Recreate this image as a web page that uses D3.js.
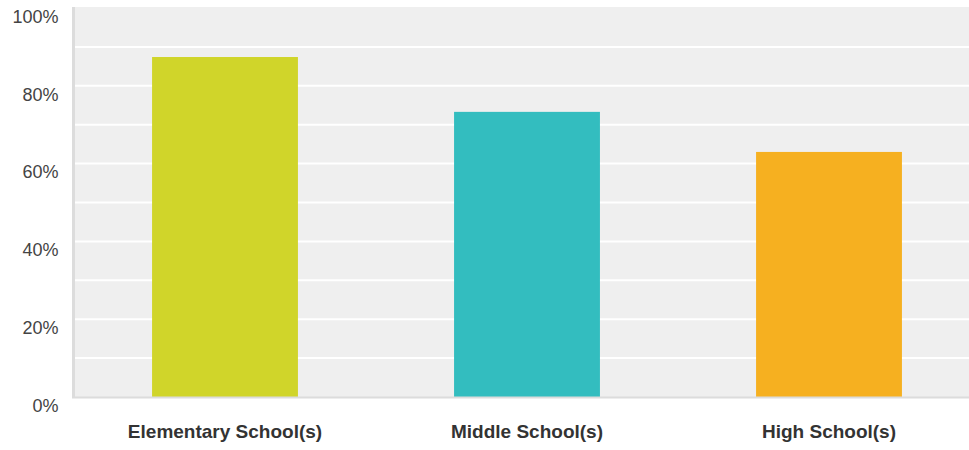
<!DOCTYPE html>
<html>
<head>
<meta charset="utf-8">
<script src="https://cdn.jsdelivr.net/npm/d3@7"></script>
<style>
  html, body { margin: 0; padding: 0; background: #ffffff; }
  svg { display: block; }
</style>
</head>
<body>
<svg id="chart" width="969" height="450"></svg>
<script>
const categories = ["Elementary School(s)", "Middle School(s)", "High School(s)"];
const values = [87.4, 73.3, 63.0];
const barColors = ["#d0d52a", "#33bdbf", "#f6b020"];
const yTicks = [0, 20, 40, 60, 80, 100];
const gridTicks = [10, 20, 30, 40, 50, 60, 70, 80, 90];

(function () {
const svg = d3.select("#chart");
const plotLeft = 74, plotRight = 980, plotTop = 8, plotBottom = 397;

const x = d3.scaleBand().domain(categories).range([plotLeft, plotRight])
  .paddingInner(0.517).paddingOuter(0.2585);
const y = d3.scaleLinear().domain([0, 100]).range([plotBottom, plotTop]);

// background
svg.append("rect").attr("x", plotLeft).attr("y", y(100) - 1)
  .attr("width", 969 - plotLeft).attr("height", plotBottom - y(100) + 1)
  .attr("fill", "#efefef");

// gridlines
svg.append("g").selectAll("line").data(gridTicks).join("line")
  .attr("x1", plotLeft).attr("x2", 969)
  .attr("y1", d => y(d)).attr("y2", d => y(d))
  .attr("stroke", "#ffffff").attr("stroke-width", 2);

// bars
svg.append("g").selectAll("rect").data(values).join("rect")
  .attr("x", (d, i) => x(categories[i]))
  .attr("y", d => y(d))
  .attr("width", x.bandwidth())
  .attr("height", d => y(0) - y(d))
  .attr("fill", (d, i) => barColors[i]);

// axis lines
svg.append("line").attr("x1", plotLeft - 0.5).attr("x2", plotLeft - 0.5)
  .attr("y1", y(100) - 1).attr("y2", plotBottom + 1)
  .attr("stroke", "#dcdcdc").attr("stroke-width", 3);
svg.append("line").attr("x1", plotLeft - 2).attr("x2", 969)
  .attr("y1", plotBottom + 0.5).attr("y2", plotBottom + 0.5)
  .attr("stroke", "#dcdcdc").attr("stroke-width", 2);

// y axis labels
const yAxis = d3.axisLeft(y).tickValues(yTicks).tickFormat(d => d + "%").tickSize(0).tickPadding(0);
const ya = svg.append("g").attr("transform", "translate(58.5,8.5)").call(yAxis);
ya.select(".domain").remove();
ya.selectAll("text").attr("font-family", "Liberation Sans, Arial, sans-serif")
  .attr("font-size", "18px").attr("fill", "#444444");

// x axis labels
const xAxis = d3.axisBottom(x).tickSize(0).tickPadding(0);
const xa = svg.append("g").attr("transform", "translate(0,424.5)").call(xAxis);
xa.select(".domain").remove();
xa.selectAll("text").attr("font-family", "Liberation Sans, Arial, sans-serif")
  .attr("font-size", "19px").attr("font-weight", "bold").attr("fill", "#333333");
})();
</script>
</body>
</html>
